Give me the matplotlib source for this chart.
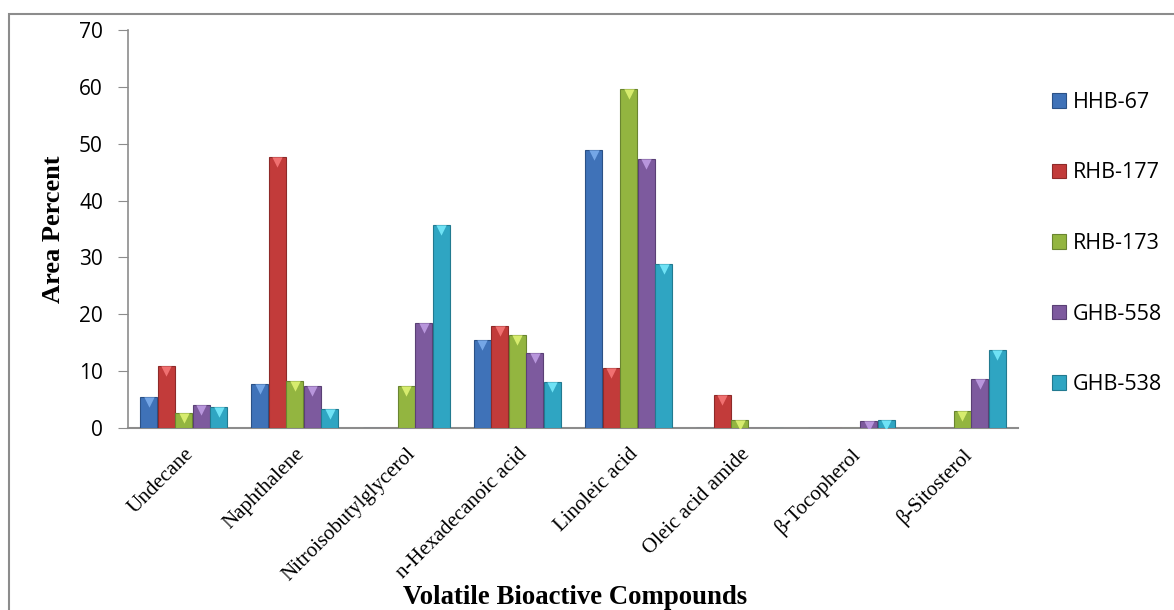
import matplotlib
matplotlib.use("Agg")
import matplotlib.pyplot as plt
from matplotlib.patches import Rectangle
import numpy as np

categories = ["Undecane", "Naphthalene", "Nitroisobutylglycerol", "n-Hexadecanoic acid",
              "Linoleic acid", "Oleic acid amide", "β-Tocopherol", "β-Sitosterol"]
series_names = ["HHB-67", "RHB-177", "RHB-173", "GHB-558", "GHB-538"]
hhb67 = [5.5, 7.7, 0, 15.5, 48.9, 0, 0, 0]
rhb177 = [10.9, 47.7, 0, 18.0, 10.5, 5.8, 0, 0]
rhb173 = [2.6, 8.3, 7.4, 16.3, 59.6, 1.4, 0, 3.0]
ghb558 = [4.0, 7.4, 18.5, 13.2, 47.3, 0, 1.2, 8.6]
ghb538 = [3.7, 3.3, 35.7, 8.1, 28.8, 0, 1.4, 13.7]
series = [hhb67, rhb177, rhb173, ghb558, ghb538]

colors = ["#3F72B8", "#C23B3A", "#93B540", "#7D5A9E", "#2FA5C2"]
edges = ["#2B5186", "#8E2A29", "#6A8530", "#5A4075", "#227A90"]
tops = ["#74A6E6", "#F07070", "#D7EC6E", "#B896DC", "#6FE2F5"]

fig = plt.figure(figsize=(11.74, 6.10), dpi=100)
fig.patches.append(Rectangle((9/1174, -0.1), 1.2, 1 - 14/610 + 0.1, transform=fig.transFigure,
                             fill=False, edgecolor="#8c8c8c", linewidth=1.5, zorder=0))
ax = fig.add_axes([128/1174, 1 - 428/610, (1018 - 128)/1174, (428 - 30)/610])

x = np.arange(len(categories))
w = 0.157
for i, (vals, name) in enumerate(zip(series, series_names)):
    pos = x + (i - 2) * w
    ax.bar(pos, vals, width=w * 0.97, color=colors[i], edgecolor=edges[i], linewidth=0.8,
           label=name, zorder=3)
    v = np.array(vals)
    m = v > 0
    ax.scatter(pos[m], v[m] - 0.9, marker="v", s=55, color=tops[i], zorder=4, linewidths=0)

ax.set_xlim(-0.5, len(categories) - 0.5)
ax.set_ylim(0, 70)
ax.set_yticks(range(0, 71, 10))
ax.tick_params(axis="y", labelsize=15, length=7, color="#8c8c8c", pad=11)
for lab in ax.get_yticklabels():
    lab.set_fontfamily("Open Sans")
ax.set_xticks(x)
ax.set_xticklabels(categories, rotation=45, ha="right", rotation_mode="anchor",
                   fontsize=15, fontfamily="Liberation Serif")
ax.tick_params(axis="x", length=0, pad=12)
for s in ["top", "right"]:
    ax.spines[s].set_visible(False)
ax.spines["left"].set_color("#8c8c8c")
ax.spines["bottom"].set_color("#8c8c8c")
ax.spines["bottom"].set_linewidth(1.5)
ax.spines["left"].set_linewidth(1.2)

ax.set_ylabel("Area Percent", fontsize=19, fontweight="bold", fontfamily="Liberation Serif", labelpad=10)
fig.text(575/1174, 1 - 598/610, "Volatile Bioactive Compounds", ha="center", va="center",
         fontsize=19.3, fontweight="bold", fontfamily="Liberation Serif")

leg = ax.legend(loc="center left", bbox_to_anchor=(1.038, 0.4636), frameon=False,
                prop={"family": "Open Sans", "size": 15.5}, labelspacing=2.3,
                borderaxespad=0, borderpad=0,
                handlelength=0.66, handleheight=0.66, handletextpad=0.32)

fig.savefig("out.png", dpi=100)
